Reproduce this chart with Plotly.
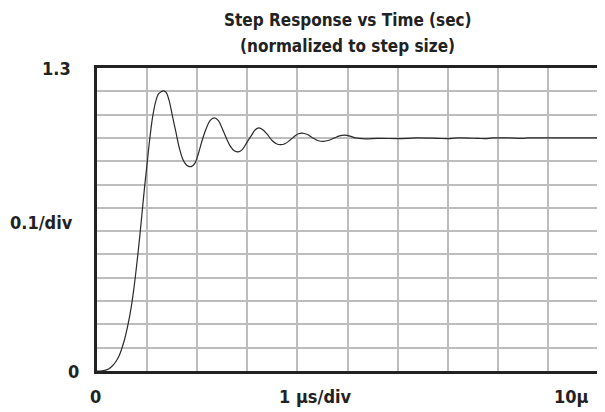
import plotly.graph_objects as go

# Time in microseconds (1 µs/div, 0..10 µs)
time_us = [0, 0.1, 0.2, 0.26, 0.33, 0.39, 0.45, 0.49, 0.55, 0.61, 0.68, 0.74, 0.80, 0.85,
           0.90, 0.95, 1.00, 1.05, 1.11, 1.17, 1.23, 1.28, 1.33, 1.38, 1.44, 1.50, 1.57,
           1.64, 1.71, 1.78, 1.84, 1.89, 1.95, 2.02, 2.10, 2.18, 2.26, 2.34, 2.42, 2.50,
           2.58, 2.66, 2.74, 2.82, 2.90, 2.99, 3.08, 3.16, 3.23, 3.31, 3.40, 3.49, 3.58,
           3.66, 3.75, 3.85, 3.95, 4.02, 4.09, 4.20, 4.31, 4.42, 4.52, 4.63, 4.74, 4.84,
           4.94, 5.05, 5.15, 5.35, 5.60, 6.00, 6.20, 6.40, 6.80, 7.00, 7.20, 7.60, 7.75,
           7.90, 8.20, 8.50, 8.60, 8.80, 9.20, 9.60, 10.0]
response = [0, 0.001, 0.006, 0.013, 0.027, 0.045, 0.07, 0.093, 0.135, 0.19, 0.27, 0.36, 0.47, 0.57,
            0.68, 0.79, 0.89, 0.99, 1.09, 1.155, 1.19, 1.198, 1.202, 1.195, 1.16, 1.1, 1.03,
            0.96, 0.91, 0.885, 0.877, 0.878, 0.89, 0.93, 0.99, 1.04, 1.075, 1.086, 1.075, 1.04,
            1.0, 0.965, 0.945, 0.94, 0.95, 0.98, 1.01, 1.035, 1.043, 1.035, 1.015, 0.99, 0.975,
            0.971, 0.975, 0.99, 1.008, 1.018, 1.021, 1.015, 1.0, 0.988, 0.985, 0.99, 1.0, 1.009,
            1.012, 1.008, 1.0, 0.996, 0.998, 0.997, 0.998, 1.0, 0.998, 0.997, 1.0, 0.998, 0.997,
            1.0, 1.0, 0.998, 1.0, 1.0, 1.0, 1.0, 1.0]

title_lines = ["Step Response vs Time (sec)", "(normalized to step size)"]
y_labels = ["1.3", "0.1/div", "0"]
x_labels = ["0", "1 \u00b5s/div", "10\u00b5"]

FONT = "Liberation Sans Narrow, DejaVu Sans Condensed, Arial Narrow, sans-serif"
TXT = "#222222"

fig = go.Figure()
fig.add_trace(go.Scatter(
    x=time_us, y=response, mode="lines",
    line=dict(color="#2a2a2a", width=1.2, shape="spline", smoothing=1.0),
    hoverinfo="skip", showlegend=False,
))

axis_common = dict(showgrid=True, gridcolor="#bdbdbd", gridwidth=1.5,
                   showline=True, linecolor="#222222", linewidth=3, mirror=True,
                   showticklabels=False, ticks="", zeroline=False)
fig.update_xaxes(range=[0, 10], dtick=1, **axis_common)
fig.update_yaxes(range=[0, 1.3], dtick=0.1, **axis_common)


def label(text, x, y, xshift, yshift, xanchor, size=18, xref="paper"):
    fig.add_annotation(text="<b>" + text + "</b>", xref=xref, yref="paper",
                       x=x, y=y, xshift=xshift, yshift=yshift,
                       xanchor=xanchor, yanchor="middle", showarrow=False,
                       font=dict(family=FONT, size=size, color=TXT))


# Title (two lines)
label(title_lines[0], 0.5, 1.0, 0, 48, "center", size=17)
label(title_lines[1], 0.5, 1.0, 0, 22, "center", size=17)
# Y-axis labels
label(y_labels[0], 0, 1.0, -24, 0, "right")
label(y_labels[1], 0, 0.5, -22, -3, "right")
label(y_labels[2], 0, 0.0, -16, 0, "right")
# X-axis labels
label(x_labels[0], 0, 0, -2, -25, "center")
label(x_labels[1], 4.37, 0, 0, -25, "center", xref="x")
label(x_labels[2], 1, 0, -7, -25, "right")

# The page body has an 8px default margin; margins compensate for it.
fig.update_layout(
    width=605, height=412,
    margin=dict(l=89, r=13, t=60, b=49),
    paper_bgcolor="white", plot_bgcolor="white",
    font=dict(family=FONT, color=TXT),
)

fig.write_html("out.html")
